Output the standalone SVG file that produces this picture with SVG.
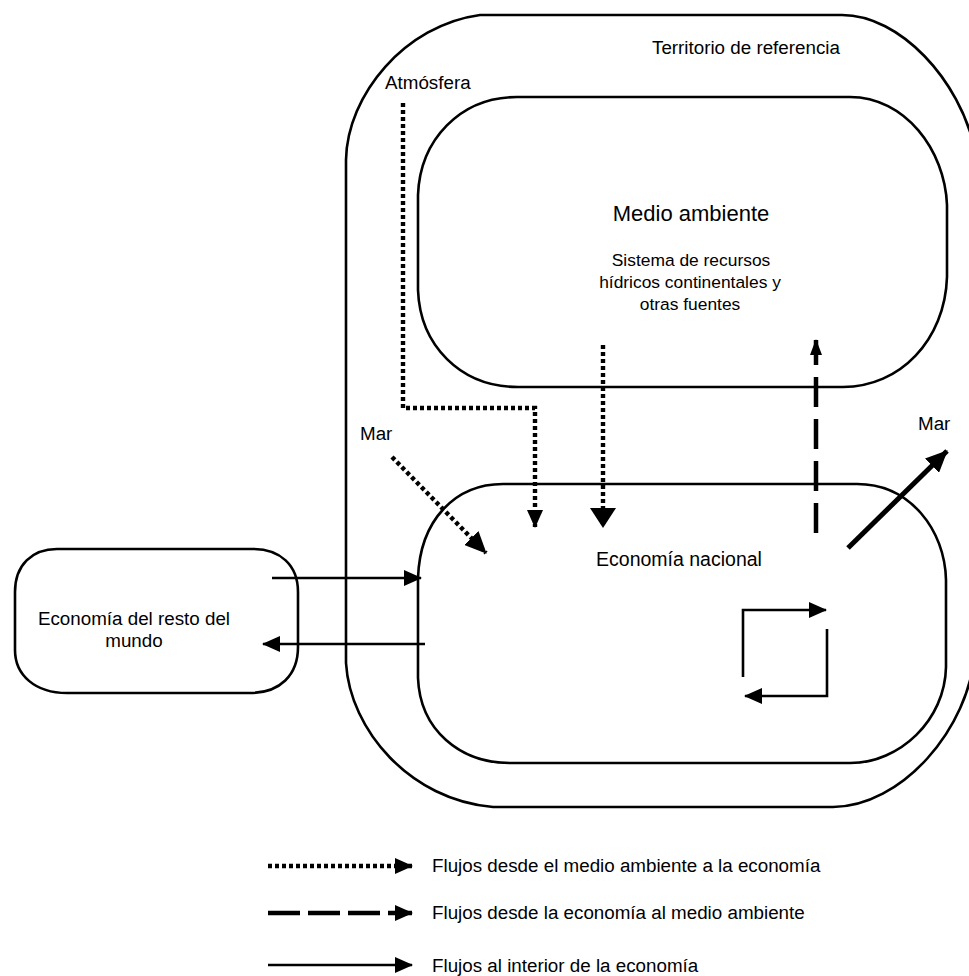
<svg xmlns="http://www.w3.org/2000/svg" width="969" height="976" viewBox="0 0 969 976">
  <style>
    .box { fill: none; stroke: #000; stroke-width: 2.6; stroke-linejoin: round; }
    .lbl { font-family: "Liberation Sans", Arial, sans-serif; font-size: 18.8px; fill: #000; }
    .mid { text-anchor: middle; }
    .small { font-size: 17.4px; }
    .solid { fill: none; stroke: #000; stroke-width: 2.6; }
    .dotted { fill: none; stroke: #000; stroke-width: 4.4; stroke-dasharray: 4 3; }
    .dashed { fill: none; stroke: #000; stroke-width: 4.5; stroke-dasharray: 30 12; }
    .thick { fill: none; stroke: #000; stroke-width: 5; }
  </style>
  <defs>
    <marker id="head" viewBox="0 0 18 16" refX="17" refY="8" markerWidth="18" markerHeight="16" orient="auto" markerUnits="userSpaceOnUse">
      <path d="M0,0 L18,8 L0,16 Z" fill="#000"/>
    </marker>
    <marker id="headBig" viewBox="0 0 20 26" refX="19" refY="13" markerWidth="20" markerHeight="26" orient="auto" markerUnits="userSpaceOnUse">
      <path d="M0,0 L20,13 L0,26 Z" fill="#000"/>
    </marker>
    <marker id="headThick" viewBox="0 0 22 20" refX="21" refY="10" markerWidth="22" markerHeight="20" orient="auto" markerUnits="userSpaceOnUse">
      <path d="M0,0 L22,10 L0,20 Z" fill="#000"/>
    </marker>
    <marker id="headNarrow" viewBox="0 0 16 12" refX="15" refY="6" markerWidth="16" markerHeight="12" orient="auto" markerUnits="userSpaceOnUse">
      <path d="M0,0 L16,6 L0,12 Z" fill="#000"/>
    </marker>
  </defs>
  <rect width="969" height="976" fill="#fff"/>

  <!-- reference territory -->
  <g id="territorio">
    <path class="box" d="M480,15 H842 C900,15 960,80 975,150 V650 C970,730 900,807 833,807 H493 C410,800 350,730 346,663 V160 C347,95 405,25 480,15 Z"/>
    <text class="lbl" x="652" y="54">Territorio de referencia</text>
  </g>

  <!-- environment -->
  <g id="medio-ambiente">
    <path class="box" d="M517,97 H850 C905,97 945,150 947,205 V277 C945,340 900,387 843,387 H518 C460,387 420,345 418,290 V195 C420,140 460,97 517,97 Z"/>
    <text class="lbl mid" x="691" y="221" style="font-size:22px">Medio ambiente</text>
    <text class="lbl mid small" x="691" y="266">Sistema de recursos</text>
    <text class="lbl mid small" x="690" y="288">hídricos continentales y</text>
    <text class="lbl mid small" x="690" y="310">otras fuentes</text>
  </g>

  <!-- national economy -->
  <g id="economia-nacional">
    <path class="box" d="M503,484 H857 C910,484 945,530 946,580 V667 C945,720 900,763 850,763 H510 C460,763 420,730 418,678 V578 C420,520 455,484 503,484 Z"/>
    <text class="lbl mid" x="679" y="566" style="font-size:19.5px">Economía nacional</text>
  </g>

  <!-- rest of the world -->
  <g id="resto-mundo">
    <path class="box" d="M57,549 H253 C280,549 298,565 298,592 V647 C298,675 280,693 250,693 H67 C35,693 15,675 15,650 V592 C15,565 32,549 57,549 Z"/>
    <text class="lbl mid" x="134" y="625">Economía del resto del</text>
    <text class="lbl mid" x="134" y="647">mundo</text>
  </g>

  <!-- source / sink labels -->
  <g id="atmosfera">
    <text class="lbl" x="385" y="89">Atmósfera</text>
  </g>
  <g id="mar-entrada">
    <text class="lbl" x="360" y="440">Mar</text>
  </g>
  <g id="mar-salida">
    <text class="lbl" x="918" y="430">Mar</text>
  </g>

  <!-- flows -->
  <g id="connectors">
    <!-- environment to economy -->
    <path class="dotted" d="M403,103 V408 H535 V527" marker-end="url(#head)"/>
    <path class="dotted" d="M603,345 V527" marker-end="url(#headBig)"/>
    <path class="dotted" d="M392,457 L486,553" marker-end="url(#headThick)"/>
    <!-- economy to environment -->
    <path class="dashed" d="M816,533 V340" marker-end="url(#headNarrow)"/>
    <path class="thick" d="M848,548 L947,451" marker-end="url(#headThick)"/>
    <!-- flows within the economy -->
    <path class="solid" d="M272,578 H421" marker-end="url(#head)"/>
    <path class="solid" d="M425,644 H263" marker-end="url(#head)"/>
    <path class="solid" d="M743,677 V610 H826" marker-end="url(#head)"/>
    <path class="solid" d="M827,629 V696 H745" marker-end="url(#head)"/>
  </g>

  <!-- legend -->
  <g id="leyenda">
    <path class="dotted" d="M268,866 H412" marker-end="url(#head)"/>
    <text class="lbl" x="432" y="872">Flujos desde el medio ambiente a la economía</text>
    <path class="dashed" d="M268,913 H412" style="stroke-dasharray:32 8" marker-end="url(#head)"/>
    <text class="lbl" x="432" y="919">Flujos desde la economía al medio ambiente</text>
    <path class="solid" d="M268,965 H412" marker-end="url(#head)"/>
    <text class="lbl" x="432" y="972">Flujos al interior de la economía</text>
  </g>
</svg>
